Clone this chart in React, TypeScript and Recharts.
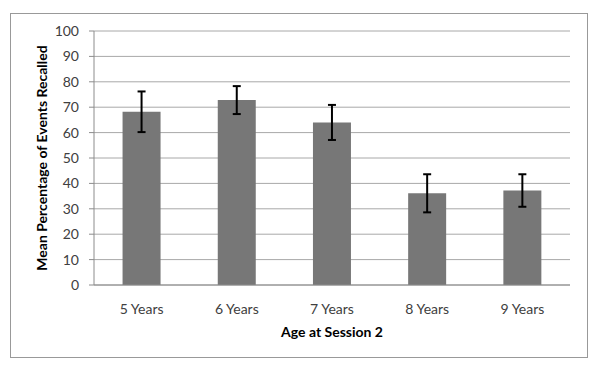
import {
  BarChart,
  Bar,
  XAxis,
  YAxis,
  CartesianGrid,
  ErrorBar,
} from "recharts";

// values
const ages = ["5 Years", "6 Years", "7 Years", "8 Years", "9 Years"];
const meanRecalled = [68.2, 72.8, 64.0, 36.1, 37.2];
const errors = [8.0, 5.5, 6.9, 7.5, 6.4];
const yTicks = [0, 10, 20, 30, 40, 50, 60, 70, 80, 90, 100];
const edgeTicks = [0, 1, 2, 3, 4, 5];

const data = ages.map((age, i) => ({
  age,
  mean: meanRecalled[i],
  err: errors[i],
}));

const FONT = "Lato, 'Open Sans', sans-serif";
const AXIS_GRAY = "#8c8c8c";
const GRID_GRAY = "#a8a8a8";
const TEXT = "#404040";

export default function App() {
  return (
    <div
      style={{
        position: "relative",
        width: 600,
        height: 376,
        margin: -8,
        background: "#fff",
        fontFamily: FONT,
      }}
    >
      {/* chart area border */}
      <div
        style={{
          position: "absolute",
          left: 10,
          top: 13,
          width: 578,
          height: 345,
          border: "1.5px solid #999",
          boxSizing: "border-box",
        }}
      />
      <div style={{ position: "absolute", left: 0, top: 0 }}>
        <BarChart
          width={600}
          height={376}
          data={data}
          margin={{ top: 31, right: 30, bottom: 35, left: 34 }}
          barCategoryGap="30%"
        >
          <CartesianGrid
            horizontal
            vertical={false}
            stroke={GRID_GRAY}
            strokeWidth={1}
            xAxisId="cat"
          />
          <XAxis
            xAxisId="edges"
            type="number"
            domain={[0, 5]}
            ticks={edgeTicks}
            tick={false}
            axisLine={false}
            tickLine={{ stroke: AXIS_GRAY }}
            tickSize={5}
            height={0}
          />
          <XAxis
            xAxisId="cat"
            dataKey="age"
            axisLine={{ stroke: AXIS_GRAY }}
            tickLine={false}
            tick={{ fill: TEXT, fontSize: 14, fontFamily: FONT }}
            tickMargin={13}
            height={56}
            label={{
              value: "Age at Session 2",
              position: "insideBottom",
              offset: 4,
              fill: "#000",
              fontSize: 14,
              fontWeight: 700,
              fontFamily: FONT,
            }}
          />
          <YAxis
            domain={[0, 100]}
            ticks={yTicks}
            interval={0}
            width={60}
            axisLine={{ stroke: AXIS_GRAY }}
            tickLine={{ stroke: AXIS_GRAY }}
            tickSize={5}
            tickMargin={10}
            tick={{ fill: TEXT, fontSize: 14, fontFamily: FONT }}
            label={{
              value: "Mean Percentage of Events Recalled",
              angle: -90,
              position: "insideLeft",
              offset: 8,
              fill: "#000",
              fontSize: 14,
              fontWeight: 700,
              fontFamily: FONT,
              style: { textAnchor: "middle" },
            }}
          />
          <Bar
            dataKey="mean"
            xAxisId="cat"
            fill="#777777"
            isAnimationActive={false}
          >
            <ErrorBar
              dataKey="err"
              direction="y"
              width={4}
              stroke="#000"
              strokeWidth={2}
            />
          </Bar>
        </BarChart>
      </div>
    </div>
  );
}
